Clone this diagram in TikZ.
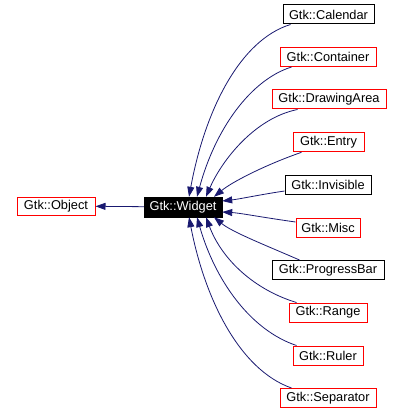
\documentclass[tikz,border=0pt]{standalone}
\usepackage{fontspec}
\setmainfont{Liberation Sans}
\usetikzlibrary{arrows.meta}
\definecolor{edgeblue}{HTML}{191970}
\definecolor{boxred}{HTML}{FF0000}
\tikzset{
  cls/.style={draw=black, line width=1pt, fill=white, inner sep=0pt, minimum height=19pt, font=\fontsize{12.8}{14}\selectfont},
  redcls/.style={cls, draw=boxred},
  cur/.style={draw=black, fill=black, text=white, inner sep=0pt, minimum height=20pt, font=\fontsize{12.8}{14}\selectfont},
  inh/.style={draw=edgeblue, line width=0.8pt, -{Triangle[length=10pt,width=7pt,fill=edgeblue]}}
}
\begin{document}
\begin{tikzpicture}[x=1pt,y=-1pt]
\useasboundingbox (0,0) rectangle (401,414);
\node[cur, minimum width=78pt] (w) at (183,207) {Gtk::Widget};
\node[redcls, minimum width=78pt, minimum height=18pt] (obj) at (56,206) {Gtk::Object};
\node[cls, minimum width=91pt] (cal) at (328.5,14.5) {Gtk::Calendar};
\node[redcls, minimum width=96pt] (con) at (328,57) {Gtk::Container};
\node[redcls, minimum width=114pt] (dra) at (329,99.5) {Gtk::DrawingArea};
\node[redcls, minimum width=71pt] (ent) at (328.5,142.3) {Gtk::Entry};
\node[cls, minimum width=86pt] (inv) at (328,185) {Gtk::Invisible};
\node[redcls, minimum width=64pt] (misc) at (328,228) {Gtk::Misc};
\node[cls, minimum width=112pt] (pro) at (328,270) {Gtk::ProgressBar};
\node[redcls, minimum width=78pt] (ran) at (328,312.5) {Gtk::Range};
\node[redcls, minimum width=70pt] (rul) at (328,355.5) {Gtk::Ruler};
\node[redcls, minimum width=96pt] (sep) at (328,398) {Gtk::Separator};

\draw[inh] (w) -- (obj);
\draw[inh] ([xshift=8pt]cal.south west) .. controls (240,40) and (205,110) .. ([xshift=6pt]w.north);
\draw[inh] ([xshift=12pt]con.south west) .. controls (250,80) and (215,130) .. ([xshift=14pt]w.north);
\draw[inh] ([xshift=26pt]dra.south west) .. controls (255,118) and (222,160) .. ([xshift=23pt]w.north);
\draw[inh] ([xshift=9pt]ent.south west) .. controls (265,165) and (232,182) .. ([xshift=31pt]w.north);
\draw[inh] ([yshift=-6pt]inv.west) .. controls (258,195) and (240,199) .. ([yshift=6pt]w.east);
\draw[inh] ([yshift=6pt]misc.west) .. controls (260,217) and (240,213) .. ([yshift=-5pt]w.east);
\draw[inh] ([xshift=28pt]pro.north west) .. controls (265,245) and (232,232) .. ([xshift=31pt]w.south);
\draw[inh] ([xshift=8pt]ran.north west) .. controls (255,290) and (222,260) .. ([xshift=23pt]w.south);
\draw[inh] ([xshift=4pt]rul.north west) .. controls (250,330) and (215,280) .. ([xshift=14pt]w.south);
\draw[inh] ([xshift=12pt]sep.north west) .. controls (240,370) and (205,300) .. ([xshift=6pt]w.south);
\end{tikzpicture}
\end{document}
